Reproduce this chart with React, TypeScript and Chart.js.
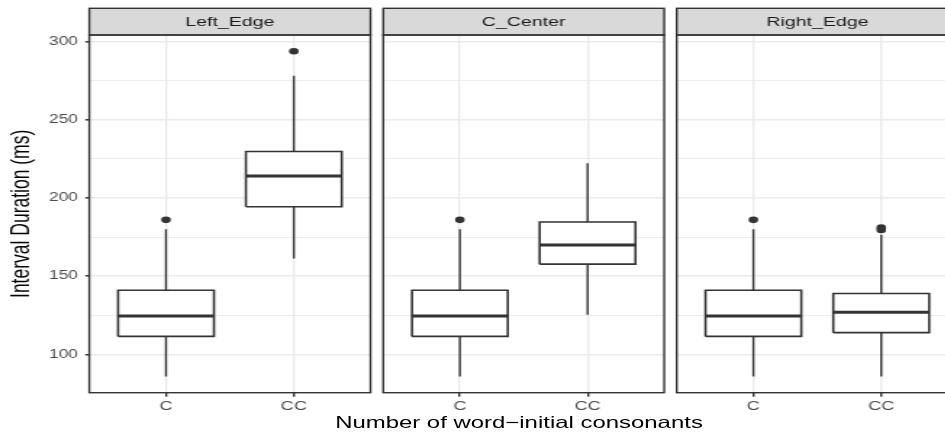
import React, { useEffect, useRef } from 'react';
import { Chart, registerables } from 'chart.js';

Chart.register(...registerables);

// ---------------- data ----------------
const panelLabels = ['Left_Edge', 'C_Center', 'Right_Edge'];
const categories = ['C', 'CC'];
// per panel: [C, CC]
const whiskerLow = [[85.9, 161.3], [85.9, 125.4], [85.9, 85.9]];
const q1Values = [[111.5, 194.4], [111.5, 157.7], [111.5, 113.9]];
const medianValues = [[124.5, 214.1], [124.5, 169.9], [124.5, 126.9]];
const q3Values = [[141, 229.7], [141, 184.6], [141, 138.9]];
const whiskerHigh = [[180, 278.2], [180, 222.2], [180, 176.5]];
const outlierValues = [
  [[186], [293.8]],
  [[186], []],
  [[186], [179.6, 181.1]],
];
const majorTicks = [100, 150, 200, 250, 300];
const minorTicks = [125, 175, 225, 275];
const yTitle = 'Interval Duration (ms)';
const xTitle = 'Number of word\u2212initial consonants';

// ---------------- layout ----------------
const SX = 1.45; // horizontal stretch of the reference picture
const W = 945;
const H = 438;
const PANEL_LEFT = 89.3 / SX;
const PANEL_W = 281.2 / SX;
const PANEL_GAP = 12.5 / SX;
const PLOT_TOP = 35;
const PLOT_BOTTOM = 392.7;
const STRIP_TOP = 8.3;
const FONT = '"Liberation Sans", Arial, Helvetica, sans-serif';
const BOX_HALF = 0.375;

const allValues = [
  ...whiskerLow.flat(),
  ...whiskerHigh.flat(),
  ...outlierValues.flat(2),
];
const dataMin = Math.min(...allValues);
const dataMax = Math.max(...allValues);
const Y_MIN = dataMin - (dataMax - dataMin) * 0.05;
const Y_MAX = dataMax + (dataMax - dataMin) * 0.05;
const gridValues = [...majorTicks, ...minorTicks].sort((a, b) => a - b);

Chart.defaults.font.family = FONT;

const facetPlugin = {
  id: 'facet',
  afterDraw(chart: any, _args: any, opts: any) {
    const { ctx, chartArea: a } = chart;
    ctx.save();
    ctx.fillStyle = '#D9D9D9';
    ctx.fillRect(a.left, STRIP_TOP, a.right - a.left, a.top - STRIP_TOP);
    ctx.strokeStyle = '#333333';
    ctx.lineWidth = 1.4;
    ctx.strokeRect(a.left, STRIP_TOP, a.right - a.left, a.top - STRIP_TOP);
    ctx.strokeRect(a.left, a.top, a.right - a.left, a.bottom - a.top);
    ctx.fillStyle = '#1A1A1A';
    ctx.font = `13.5px ${FONT}`;
    ctx.textAlign = 'center';
    ctx.textBaseline = 'middle';
    ctx.fillText(opts.label, (a.left + a.right) / 2, (STRIP_TOP + a.top) / 2 + 0.5);
    ctx.restore();
  },
};

function Panel({ index }: { index: number }) {
  const ref = useRef<HTMLCanvasElement | null>(null);
  const L = PANEL_LEFT + index * (PANEL_W + PANEL_GAP);
  const R = L + PANEL_W;
  const canvasLeft = index === 0 ? 0 : Math.floor(L - 3);
  const canvasRight = Math.ceil(R + 3);
  const cw = canvasRight - canvasLeft;

  useEffect(() => {
    if (!ref.current) return;
    const datasets: any[] = [];
    const lineBase = {
      showLine: true,
      pointRadius: 0,
      pointHoverRadius: 0,
      borderColor: '#333333',
      fill: false,
    };
    categories.forEach((_cat, i) => {
      const x = i + 1;
      const lo = whiskerLow[index][i];
      const q1 = q1Values[index][i];
      const md = medianValues[index][i];
      const q3 = q3Values[index][i];
      const hi = whiskerHigh[index][i];
      // box fill
      datasets.push({
        ...lineBase,
        data: [{ x: x - BOX_HALF, y: q3 }, { x: x + BOX_HALF, y: q3 }],
        borderColor: 'rgba(0,0,0,0)',
        borderWidth: 1,
        backgroundColor: '#FFFFFF',
        fill: { value: q1 },
        order: 4,
      });
      // whiskers
      datasets.push({
        ...lineBase,
        data: [{ x, y: lo }, { x, y: q1 }],
        borderWidth: 1.4,
        order: 3,
      });
      datasets.push({
        ...lineBase,
        data: [{ x, y: q3 }, { x, y: hi }],
        borderWidth: 1.4,
        order: 3,
      });
      // box outline
      datasets.push({
        ...lineBase,
        data: [
          { x: x - BOX_HALF, y: q1 },
          { x: x + BOX_HALF, y: q1 },
          { x: x + BOX_HALF, y: q3 },
          { x: x - BOX_HALF, y: q3 },
          { x: x - BOX_HALF, y: q1 },
        ],
        borderWidth: 1.6,
        borderJoinStyle: 'miter',
        order: 2,
      });
      // median
      datasets.push({
        ...lineBase,
        data: [{ x: x - BOX_HALF, y: md }, { x: x + BOX_HALF, y: md }],
        borderWidth: 3,
        order: 1,
      });
      // outliers
      datasets.push({
        showLine: false,
        data: outlierValues[index][i].map((v) => ({ x, y: v })),
        pointRadius: 3.3,
        pointHoverRadius: 3.3,
        pointBackgroundColor: '#333333',
        pointBorderWidth: 0,
        pointBorderColor: '#333333',
        order: 0,
      });
    });

    const chart = new Chart(ref.current, {
      type: 'scatter',
      data: { datasets },
      options: {
        responsive: false,
        animation: false,
        devicePixelRatio: 1,
        events: [],
        layout: {
          padding: {
            left: index === 0 ? 0 : L - canvasLeft,
            right: canvasRight - R,
            top: PLOT_TOP,
            bottom: 0,
          },
        },
        plugins: {
          legend: { display: false },
          tooltip: { enabled: false },
          title: { display: false },
          facet: { label: panelLabels[index] },
        } as any,
        scales: {
          x: {
            type: 'linear',
            min: 0.4,
            max: 2.6,
            afterBuildTicks: (s: any) => {
              s.ticks = categories.map((_c, i) => ({ value: i + 1 }));
            },
            afterFit: (s: any) => {
              s.height = H - PLOT_BOTTOM;
            },
            ticks: {
              callback: (v: any) => categories[Math.round(v) - 1] ?? '',
              color: '#4D4D4D',
              font: { family: FONT, size: 12.5 },
              padding: 2,
              maxRotation: 0,
              autoSkip: false,
            },
            grid: {
              color: '#EBEBEB',
              lineWidth: 1.4,
              drawTicks: true,
              tickLength: 4,
              tickColor: '#333333',
              tickWidth: 1.4,
            },
            border: { display: false },
          },
          y: {
            type: 'linear',
            min: Y_MIN,
            max: Y_MAX,
            afterBuildTicks: (s: any) => {
              s.ticks = gridValues.map((v) => ({ value: v }));
            },
            afterFit: (s: any) => {
              s.width = index === 0 ? L : 0;
            },
            ticks: {
              display: index === 0,
              callback: (v: any) => (majorTicks.includes(v) ? String(v) : ''),
              color: '#4D4D4D',
              font: { family: FONT, size: 12 },
              padding: 5,
            },
            grid: {
              color: '#EBEBEB',
              lineWidth: (c: any) => (c.tick && majorTicks.includes(c.tick.value) ? 1.6 : 0.9),
              drawTicks: index === 0,
              tickLength: 2.8,
              tickColor: (c: any) =>
                c.tick && majorTicks.includes(c.tick.value) ? '#333333' : 'rgba(0,0,0,0)',
              tickWidth: 1.5,
            },
            border: { display: false },
            title: {
              display: index === 0,
              text: yTitle,
              color: '#000000',
              font: { family: FONT, size: 17.5 },
              padding: { top: 4.7, bottom: 0 },
            },
          },
        },
      } as any,
      plugins: [facetPlugin],
    });
    return () => chart.destroy();
  }, [index]);

  return (
    <canvas
      ref={ref}
      width={cw}
      height={H}
      style={{ position: 'absolute', left: canvasLeft, top: 0, width: cw, height: H }}
    />
  );
}

export default function App() {
  const innerWidth = Math.ceil(PANEL_LEFT + 3 * PANEL_W + 2 * PANEL_GAP + 10);
  const titleCenter = 519 / SX;
  return (
    <div
      style={{
        position: 'fixed',
        left: 0,
        top: 0,
        width: W,
        height: H,
        overflow: 'hidden',
        background: '#FFFFFF',
      }}
    >
      <div
        style={{
          position: 'absolute',
          left: 0,
          top: 0,
          width: innerWidth,
          height: H,
          transform: `scaleX(${SX})`,
          transformOrigin: '0 0',
        }}
      >
        {panelLabels.map((_p, i) => (
          <Panel key={i} index={i} />
        ))}
        <div
          style={{
            position: 'absolute',
            left: titleCenter - 250,
            width: 500,
            top: 413.6,
            textAlign: 'center',
            fontFamily: FONT,
            fontSize: 16.5,
            lineHeight: '16.5px',
            color: '#000000',
            whiteSpace: 'nowrap',
          }}
        >
          {xTitle}
        </div>
      </div>
    </div>
  );
}
